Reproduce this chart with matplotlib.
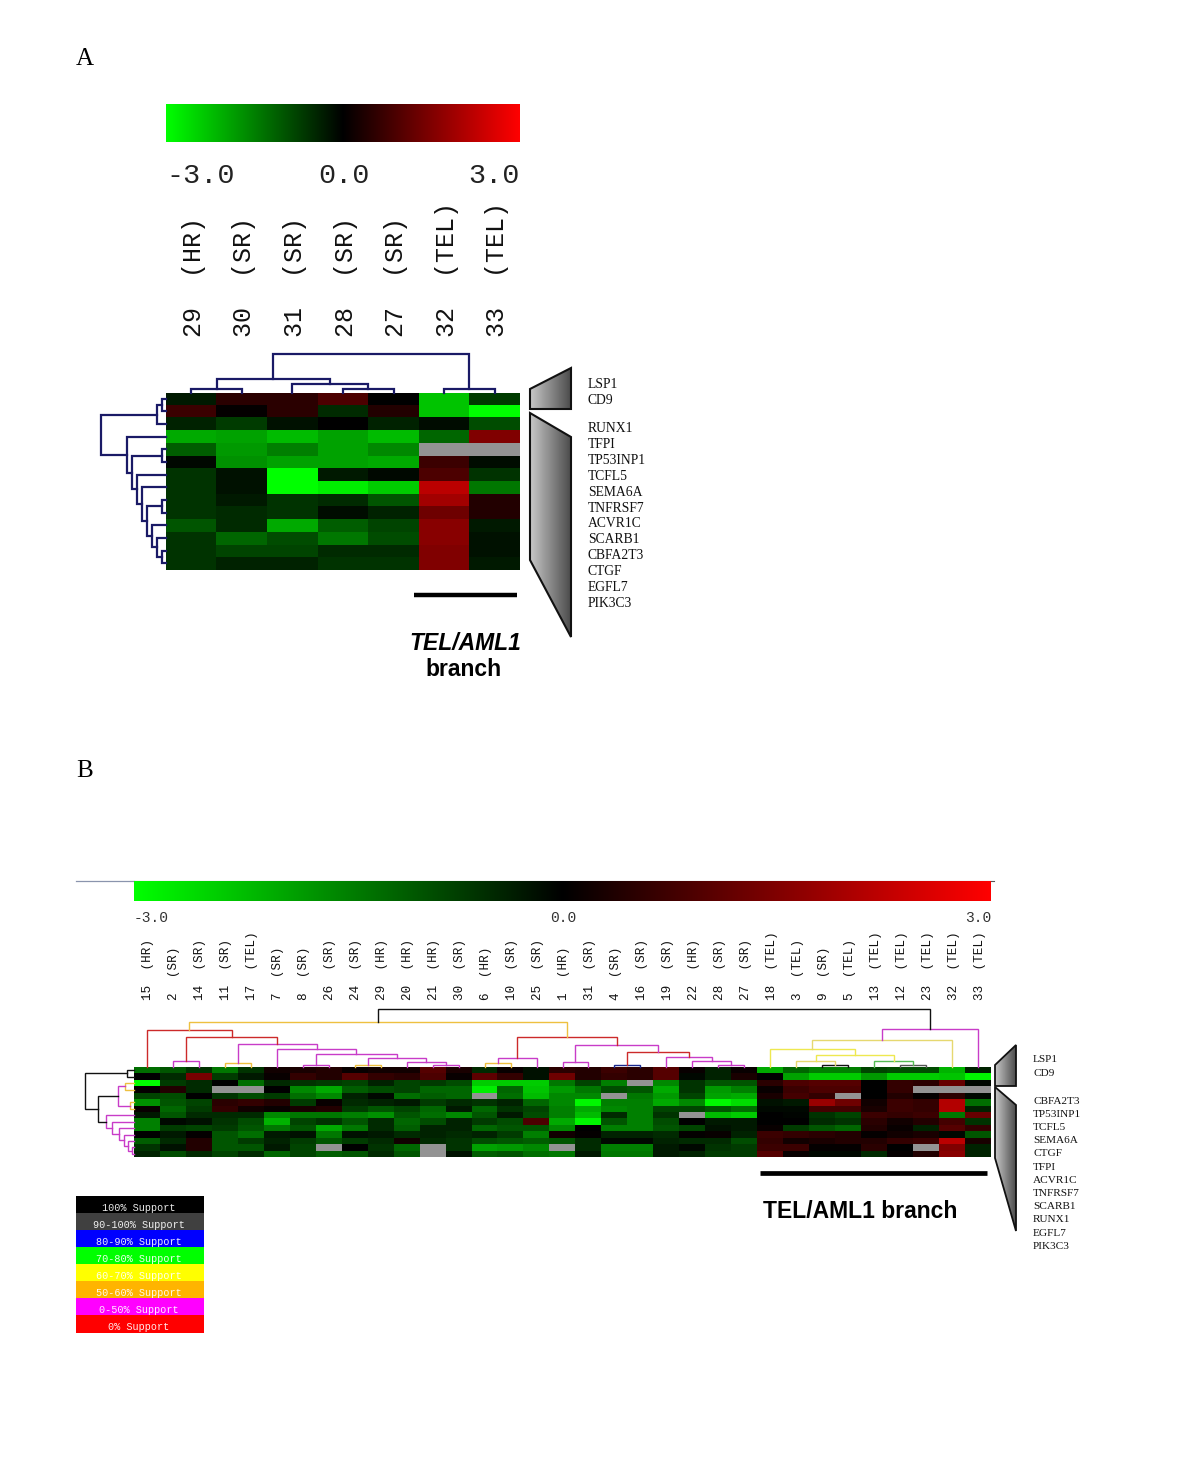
import numpy as np
import matplotlib
matplotlib.use("Agg")
import matplotlib.pyplot as plt
from matplotlib.colors import LinearSegmentedColormap
from matplotlib.patches import Polygon, Rectangle

W, H = 1200, 1484
nan = np.nan

# panel A
genes_a = ["LSP1", "CD9", "RUNX1", "TFPI", "TP53INP1", "TCFL5", "SEMA6A", "TNFRSF7",
           "ACVR1C", "SCARB1", "CBFA2T3", "CTGF", "EGFL7", "PIK3C3"]
samples_a = ["29  (HR)", "30  (SR)", "31  (SR)", "28  (SR)", "27  (SR)", "32  (TEL)", "33  (TEL)"]
values_a = [
    [-0.3, 0.5, 0.5, 0.9, 0.0, -2.3, -0.7],
    [0.7, 0.05, 0.5, -0.5, 0.4, -2.3, -3.0],
    [-0.4, -0.7, -0.2, 0.0, -0.4, -0.15, -0.9],
    [-2.0, -1.9, -2.2, -1.9, -2.2, -1.2, 1.5],
    [-1.1, -1.8, -1.5, -1.9, -1.6, nan, nan],
    [-0.1, -1.7, -1.9, -1.9, -2.0, 0.7, -0.15],
    [-0.6, -0.2, -3.0, -0.3, -0.1, 0.9, -0.6],
    [-0.6, -0.2, -3.0, -2.8, -2.4, 2.2, -1.4],
    [-0.6, -0.3, -0.6, -0.5, -1.0, 1.9, 0.4],
    [-0.6, -0.5, -0.6, -0.15, -0.4, 1.3, 0.4],
    [-1.0, -0.5, -2.0, -1.1, -0.8, 1.6, -0.3],
    [-0.6, -1.2, -0.9, -1.4, -0.9, 1.6, -0.2],
    [-0.6, -0.8, -0.8, -0.5, -0.5, 1.5, -0.2],
    [-0.6, -0.4, -0.4, -0.6, -0.6, 1.5, -0.3],
]

# panel B
genes_b = ["LSP1", "CD9", "CBFA2T3", "TP53INP1", "TCFL5", "SEMA6A", "CTGF", "TFPI",
           "ACVR1C", "TNFRSF7", "SCARB1", "RUNX1", "EGFL7", "PIK3C3"]
samples_b = ["15  (HR)", "2  (SR)", "14  (SR)", "11  (SR)", "17  (TEL)", "7  (SR)", "8  (SR)",
             "26  (SR)", "24  (SR)", "29  (HR)", "20  (HR)", "21  (HR)", "30  (SR)", "6  (HR)",
             "10  (SR)", "25  (SR)", "1  (HR)", "31  (SR)", "4  (SR)", "16  (SR)", "19  (SR)",
             "22  (HR)", "28  (SR)", "27  (SR)", "18  (TEL)", "3  (TEL)", "9  (SR)", "5  (TEL)",
             "13  (TEL)", "12  (TEL)", "23  (TEL)", "32  (TEL)", "33  (TEL)"]
values_b = [
    [-1.3, -1.0, -0.6, -1.4, -0.6, 0.2, 0.3, 0.4, 0.1, 0.2, 0.2, 1.0, 0.3, -0.5, 0.1, -0.2,
     0.5, 0.4, 0.7, 0.5, 1.0, 0.1, -0.4, 0.1, -2.0, -1.2, -1.5, -1.5, -0.8, -0.9, -0.9, -2.1, -0.4],
    [0.0, -0.5, 1.4, -0.7, -0.3, 0.1, 0.6, 0.4, 1.0, 0.6, 0.5, 0.9, 0.1, 1.1, 0.6, -0.2,
     1.3, 0.4, 0.6, 0.5, 1.0, -0.1, -0.4, 0.3, 0.0, -1.9, -2.4, -2.4, -1.8, -2.4, -2.4, -2.3, -2.9],
    [-3.0, -0.7, -0.5, 0.0, -1.3, -0.5, -0.6, -0.7, -0.8, -0.4, -0.8, -0.7, -0.9, -2.4, -2.4, -2.4,
     -1.4, -0.8, -1.5, nan, -1.6, -0.6, -1.0, -1.0, 0.5, 0.9, 1.0, 1.0, 0.0, 0.6, 0.5, 1.2, -0.1],
    [0.05, 0.4, -0.5, nan, nan, 0.0, -1.6, -2.0, -1.1, -0.9, -0.8, -1.2, -1.2, -2.8, -1.2, -2.3,
     -1.8, -1.4, -0.9, -1.0, -2.0, -0.6, -1.8, -1.5, 0.1, 0.7, 0.9, 0.9, 0.0, 0.6, nan, nan, nan],
    [-0.8, -0.9, 0.0, -0.6, -0.9, -0.7, -1.3, -1.6, -0.4, -0.1, -1.3, -1.1, -1.2, nan, -1.3, -2.2,
     -1.6, -1.6, nan, -1.4, -1.8, -0.8, -1.9, -2.0, 0.3, 0.8, 0.6, nan, 0.0, 0.4, 0.05, 0.5, -0.1],
    [-1.7, -1.0, -0.8, 0.5, 0.6, 0.4, -0.7, 0.1, -0.5, -0.4, -0.3, -0.7, -0.5, -0.6, -0.4, -1.2,
     -1.6, -2.9, -1.5, -1.5, -2.0, -1.6, -2.9, -2.6, -0.2, -0.3, 1.8, 1.3, 0.2, 0.7, 0.6, 2.1, -1.3],
    [0.1, -1.2, -0.7, 0.6, 0.2, 0.1, 0.3, 0.4, -0.7, -1.0, -0.8, -1.2, -0.3, -1.2, -0.6, -0.8,
     -1.5, -2.0, -1.6, -1.5, -0.8, -0.8, -1.0, -1.3, -0.1, -0.1, 0.8, 0.8, 0.3, 0.7, 0.6, 2.1, -0.4],
    [-0.3, -1.0, -0.5, -0.5, -0.5, -1.6, -1.4, -1.4, -1.5, -1.7, -1.0, -1.3, -1.6, -1.0, -0.3, -0.9,
     -1.5, -2.2, -0.5, -1.5, -0.6, nan, -2.2, -2.4, 0.0, -0.05, -0.6, -0.8, 0.7, 0.6, 0.7, -1.4, 1.2],
    [-1.5, -0.1, -0.2, -0.6, -0.9, -2.1, -0.8, -0.6, -1.0, -0.5, -1.2, -0.9, -0.4, -0.7, -0.9, 0.9,
     -2.0, -2.9, -1.0, -1.5, -0.9, 0.0, -0.3, -0.3, 0.0, 0.0, -0.5, -0.6, 0.5, 0.2, 0.4, 0.8, -0.6],
    [-1.5, -0.7, -0.8, -0.7, -1.0, -1.4, -1.0, -2.0, -1.4, -0.5, -1.1, -0.4, -0.4, -1.2, -1.0, -1.0,
     -1.6, 0.0, -1.5, -1.5, -1.0, -0.8, -0.2, -0.3, 0.1, -0.7, -1.0, -1.2, 0.4, 0.1, -0.4, 1.0, 0.6],
    [0.0, -0.3, 0.05, -1.0, -1.3, -0.3, -0.2, -1.4, -0.2, -0.3, -0.5, -0.4, -0.5, -0.4, -0.7, -1.5,
     0.2, 0.05, -0.4, -0.4, -0.5, 0.05, 0.1, -0.4, 0.7, 0.6, 0.5, 0.4, 0.05, 0.2, 0.3, -0.1, -1.0],
    [-1.1, -0.5, 0.4, -1.0, -0.7, -0.4, -0.7, -1.0, -0.7, -0.5, 0.2, -0.5, -0.6, -0.9, -1.0, -1.1,
     -1.0, -0.5, -0.1, -0.1, -0.4, -0.5, -0.5, -0.9, 0.6, 0.2, 0.3, 0.4, 0.4, 0.6, 0.7, 2.2, 0.3],
    [-0.6, -0.2, 0.4, -1.0, -1.0, -0.3, -0.8, nan, 0.0, -0.6, -1.2, nan, -0.6, -1.9, -1.8, -1.6,
     nan, -0.5, -1.5, -1.5, -0.3, -0.1, -0.6, -0.7, 0.7, 0.7, 0.05, 0.05, 0.5, 0.0, nan, 1.5, -0.4],
    [-0.4, -0.9, -0.5, -0.8, -0.5, -1.2, -0.8, -1.1, -1.0, -0.5, -1.0, nan, -0.2, -1.1, -1.0, -1.3,
     -1.4, -0.3, -1.4, -1.4, -0.3, -0.4, -0.7, -0.7, 1.0, 0.1, -0.1, -0.1, -0.5, 0.05, 0.4, 1.6, -0.4],
]

legend_labels = ["100% Support", "90-100% Support", "80-90% Support", "70-80% Support",
                 "60-70% Support", "50-60% Support", "0-50% Support", "0% Support"]
legend_colors = ["#000000", "#404040", "#0000ff", "#00ff00", "#ffff00", "#ffb400", "#ff00ff", "#ff0000"]

# dendrograms: leaf = row/column index, node = (height in px, colour, left, right)
NAVY = "#1a1a66"
BLK = "#111111"
GRY = "#555555"
RED = "#cc2a2a"
MAG = "#c83cc8"
ORG = "#eec040"
YEL = "#eee850"
KHK = "#e6d870"
GRN = "#55bb55"
BLU = "#1a2a90"

tree_a_cols = (39, NAVY,
               (14, NAVY, (4, NAVY, 0, 1), (9, NAVY, 2, (4, NAVY, 3, 4))),
               (4, NAVY, 5, 6))
tree_a_rows = (65, NAVY,
               (9, NAVY, (4, NAVY, 0, 1), 2),
               (39, NAVY, 3,
                (34, NAVY, (4, NAVY, 4, 5),
                 (29, NAVY, 6,
                  (24, NAVY, 7,
                   (19, NAVY, (4, NAVY, 8, 9),
                    (14, NAVY, 10,
                     (9, NAVY, 11, (4, NAVY, 12, 13)))))))))
tree_b_cols = (58, BLK,
               (45, ORG,
                (37, RED, 0,
                 (30, RED, (6, MAG, 1, 2),
                  (23, MAG, (4, ORG, 3, 4),
                   (18, MAG, 5,
                    (13, MAG, (2, MAG, 6, 7),
                     (9, MAG, (2, ORG, 8, 9),
                      (5, MAG, 10, (2, MAG, 11, 12)))))))),
                (30, RED,
                 (9, MAG, (4, ORG, 13, 14), 15),
                 (22, MAG, (5, MAG, 16, 17),
                  (15, RED, (2, BLU, 18, 19),
                   (10, MAG, 20,
                    (6, MAG, 21, (2, MAG, 22, 23))))))),
               (38, MAG,
                (27, KHK,
                 (18, YEL, 24,
                  (12, YEL,
                   (6, KHK, 25, (2, BLK, 26, 27)),
                   (6, GRN, 28, (2, GRY, 29, 30)))),
                 31),
                32))
tree_b_rows = (49, BLK,
               (7, BLK, 0, 1),
               (36, BLK,
                (16, MAG, (9, ORG, 2, 3), (4, ORG, 5, 6)),
                (28, MAG, 7,
                 (22, MAG, 8,
                  (15, MAG, 9,
                   (10, MAG, 10,
                    (6, MAG, 11, (2, MAG, 12, 13))))))))

cmap = LinearSegmentedColormap.from_list("gbr", ["#00ff00", "#000000", "#ff0000"], N=512)
cmap.set_bad("#939393")

SERIF = "Liberation Serif"
MONO = "Liberation Mono"
SANS = "Liberation Sans"

fig = plt.figure(figsize=(W / 100, H / 100), dpi=100)
page = fig.add_axes([0, 0, 1, 1], zorder=0)


def px_axes(left, top, right, bottom):
    ax = fig.add_axes([left / W, 1 - bottom / H, (right - left) / W, (bottom - top) / H], zorder=2)
    ax.axis("off")
    return ax


def draw_tree(ax, node, vertical, lw):
    # returns position of the node along the leaf axis and its height
    if not isinstance(node, tuple):
        return node + 0.5, 0
    h, col, left, right = node
    p1, h1 = draw_tree(ax, left, vertical, lw)
    p2, h2 = draw_tree(ax, right, vertical, lw)
    a = [p1, p1, p2, p2]
    b = [h1, h, h, h2]
    if vertical:
        ax.plot(a, b, color=col, lw=lw, clip_on=False, solid_joinstyle="miter")
    else:
        ax.plot(b, a, color=col, lw=lw, clip_on=False, solid_joinstyle="miter")
    return (p1 + p2) / 2, h


def heatmap(values, box, tree_cols, tree_rows, lw):
    left, top, right, bottom = box
    data = np.array(values)
    nrow, ncol = data.shape
    ax = px_axes(left, top, right, bottom)
    ax.imshow(data, cmap=cmap, vmin=-3, vmax=3, aspect="auto", interpolation="nearest",
              extent=(0, ncol, nrow, 0))
    top_ax = px_axes(left, top - 70, right, top)
    top_ax.set_xlim(0, ncol)
    top_ax.set_ylim(0, 70)
    draw_tree(top_ax, tree_cols, True, lw)
    side_ax = px_axes(left - 70, top, left, bottom)
    side_ax.set_xlim(70, 0)
    side_ax.set_ylim(nrow, 0)
    draw_tree(side_ax, tree_rows, False, lw)


def colorbar(box):
    ax = px_axes(*box)
    ax.imshow(np.linspace(-3, 3, 512).reshape(1, -1), cmap=cmap, vmin=-3, vmax=3, aspect="auto")


def wedge(points, lw):
    xs = [p[0] for p in points]
    ys = [p[1] for p in points]
    im = page.imshow(np.linspace(0.78, 0.3, 64).reshape(1, -1), cmap="gray", vmin=0, vmax=1,
                     extent=(min(xs), max(xs), max(ys), min(ys)), aspect="auto", zorder=1)
    poly = Polygon(points, closed=True, fc="none", ec="#111111", lw=lw, zorder=2)
    page.add_patch(poly)
    im.set_clip_path(poly)


def column_labels(labels, box, bottom, size, shift):
    left, right = box
    step = (right - left) / len(labels)
    for i, s in enumerate(labels):
        page.text(left + (i + 0.5) * step + shift, bottom, s, rotation=90, ha="center", va="bottom",
                  family=MONO, fontsize=size, color="#111111")


heatmap(values_a, (166, 392.5, 520, 569.5), tree_a_cols, tree_a_rows, 1.6)
heatmap(values_b, (134, 1067, 991, 1157), tree_b_cols, tree_b_rows, 1.0)
colorbar((166, 104, 520, 142))
colorbar((134, 881, 991, 901))

wedge([(530, 389), (571, 368), (571, 409), (530, 409)], 1.5)
wedge([(530, 413), (571, 437), (571, 637), (530, 560)], 1.5)
wedge([(995, 1065), (1016, 1045), (1016, 1086), (995, 1086)], 1.3)
wedge([(995, 1087), (1016, 1105), (1016, 1231), (995, 1158)], 1.3)

# panel letters
page.text(76, 59, "A", family=SERIF, fontsize=18, va="center", color="black")
page.text(76, 771, "B", family=SERIF, fontsize=18, va="center", color="black")

# colour scale labels
for s, x, ha in [("-3.0", 166, "left"), ("0.0", 344, "center"), ("3.0", 520, "right")]:
    page.text(x, 176, s, family=MONO, fontsize=20.5, ha=ha, va="center", color="#222222")
for s, x, ha in [("-3.0", 134, "left"), ("0.0", 563, "center"), ("3.0", 991, "right")]:
    page.text(x, 918, s, family=MONO, fontsize=10.5, ha=ha, va="center", color="#333333")

column_labels(samples_a, (166, 520), 337, 18, 2.5)
column_labels(samples_b, (134, 991), 1000, 9.1, 1.5)

# gene labels
for i, g in enumerate(genes_a):
    y = 384 + 16 * i if i < 2 else 429 + 15.83 * (i - 2)
    page.text(588, y, g, family=SERIF, fontsize=9.8, va="center", color="#111111")
for i, g in enumerate(genes_b):
    y = 1060 + 13 * i if i < 2 else 1101 + 13.2 * (i - 2)
    page.text(1033, y, g, family=SERIF, fontsize=8.1, va="center", color="#111111")

# branch markers
page.plot([414, 517], [595, 595], color="black", lw=3.2, solid_capstyle="butt")
page.plot([760, 987], [1173, 1173], color="black", lw=3.4, solid_capstyle="butt")
page.text(465, 644, "TEL/AML1", family=SANS, weight="bold", style="italic", fontsize=16.5,
          ha="center", va="center", color="black")
page.text(464, 670, "branch", family=SANS, weight="bold", fontsize=16.5, ha="center", va="center",
          color="black")
page.text(860, 1212, "TEL/AML1 branch", family=SANS, weight="bold", fontsize=16.5, ha="center",
          va="center", color="black")

# line above the lower colour scale
page.plot([76, 134], [880.5, 880.5], color="#8a94ad", lw=0.9)
page.plot([134, 994], [880.5, 880.5], color="#555555", lw=0.8)

# support legend
row_h = 136.5 / len(legend_labels)
for i, (lab, col) in enumerate(zip(legend_labels, legend_colors)):
    y0 = 1196 + i * row_h
    page.add_patch(Rectangle((76, y0), 128, row_h, fc=col, ec="none", zorder=1))
    page.text(139, y0 + row_h * 0.68, lab, family=MONO, fontsize=7.3, ha="center", va="center",
              color="white", alpha=0.92, zorder=3)

page.set_xlim(0, W)
page.set_ylim(H, 0)
page.axis("off")

fig.savefig("out.png", dpi=100, facecolor="white")
